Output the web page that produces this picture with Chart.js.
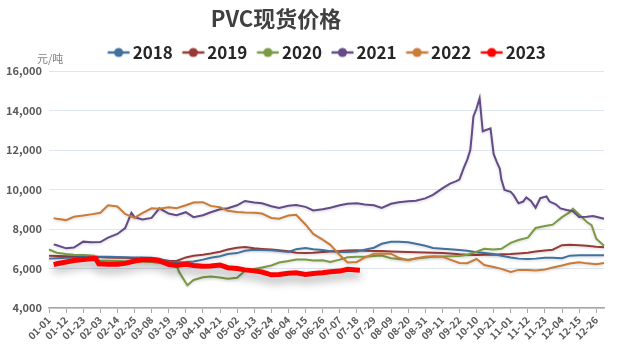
<!DOCTYPE html>
<html>
<head>
<meta charset="utf-8">
<script src="https://cdn.jsdelivr.net/npm/chart.js@4/dist/chart.umd.min.js"></script>
<style>
html,body{margin:0;padding:0;background:#ffffff;}
#wrap{width:617px;height:349px;position:relative;}
</style>
</head>
<body>
<div id="wrap"><canvas id="c" width="617" height="349"></canvas></div>
<script>
// ---------- text ----------
const chartTitle = 'PVC现货价格';
const unitLabel = '元/吨';
const seriesNames = ['2018', '2019', '2020', '2021', '2022', '2023'];

// ---------- category axis: calendar days (Oct 1-7 holiday absent) ----------
const monthLengths = [31, 28, 31, 30, 31, 30, 31, 31, 30, 31, 30, 31];
const holidayMonth = 10, holidayLastDay = 7;
const dayLabels = [];
for (let m = 1; m <= 12; m++) {
  for (let d = 1; d <= monthLengths[m - 1]; d++) {
    if (m === holidayMonth && d <= holidayLastDay) continue;
    dayLabels.push(String(m).padStart(2, '0') + '-' + String(d).padStart(2, '0'));
  }
}
const labelEvery = 11; // a tick label on every 11th category

const baseDays = ['01-01','01-06','01-12','01-17','01-23','01-28',
  '02-03','02-08','02-14','02-19','02-25',
  '03-02','03-08','03-13','03-19','03-24','03-30',
  '04-04','04-10','04-15','04-21','04-26',
  '05-02','05-07','05-13','05-18','05-24','05-29',
  '06-04','06-09','06-15','06-20','06-26',
  '07-01','07-07','07-12','07-18','07-23','07-29',
  '08-03','08-09','08-14','08-20','08-25','08-31',
  '09-05','09-11','09-16','09-22','09-27',
  '10-10','10-15','10-21','10-26',
  '11-01','11-06','11-12','11-17','11-23','11-28',
  '12-04','12-09','12-15','12-20','12-26','12-31'];

const price2018 = [6500,6520,6540,6560,6580,6590,
  6590,6590,6580,6570,6560,
  6560,6540,6500,6330,6320,6330,
  6360,6450,6540,6620,6730,
  6780,6900,6950,6940,6920,6880,
  6840,6980,7040,6980,6940,
  6880,6840,6840,6860,6950,7050,
  7250,7350,7360,7330,7250,7150,
  7040,7000,6970,6940,6900,
  6820,6780,6730,6650,
  6560,6500,6480,6500,6550,6540,
  6520,6650,6670,6670,6670,6670];

const price2019 = [6640,6630,6620,6610,6600,6590,
  6580,6560,6550,6540,6520,
  6510,6490,6460,6390,6380,6560,
  6650,6700,6760,6850,6960,
  7050,7090,7020,6990,6960,6920,
  6870,6800,6780,6800,6840,
  6860,6880,6910,6920,6900,6890,
  6880,6860,6850,6830,6820,6810,
  6800,6780,6760,6720,6700,
  6680,6690,6700,6720,
  6730,6760,6800,6860,6910,6950,
  7180,7200,7180,7150,7100,7080];

const days2020 = ['01-01','01-06','01-12','01-17','01-23','01-28','01-30',
  '02-01','02-03','02-08','02-14','02-19','02-25',
  '03-02','03-08','03-13','03-19','03-24','03-26','03-31',
  '04-04','04-10','04-15','04-21','04-26',
  '05-02','05-07','05-13','05-18','05-24','05-29',
  '06-04','06-09','06-15','06-20','06-26',
  '07-01','07-07','07-12','07-18','07-23','07-29',
  '08-03','08-09','08-14','08-20','08-25','08-31',
  '09-05','09-11','09-16','09-22','09-27',
  '10-10','10-15','10-21','10-26',
  '11-01','11-06','11-12','11-17','11-23','11-28',
  '12-04','12-09','12-11','12-15','12-20','12-23','12-26','12-31'];
const price2020 = [6960,6800,6740,6700,6680,6660,6650,
  6400,6390,6390,6380,6370,6360,
  6350,6330,6280,6220,6150,5780,5150,
  5420,5560,5590,5540,5480,
  5530,5880,5980,6050,6150,6300,
  6380,6460,6460,6400,6420,
  6330,6450,6570,6600,6600,6630,
  6660,6520,6480,6440,6500,6560,
  6600,6610,6620,6630,6700,
  6850,7000,6960,7000,
  7300,7440,7560,8050,8150,8220,
  8600,8850,9030,8740,8350,8200,7510,7150];

const days2021 = ['01-04','01-06','01-12','01-17','01-23','01-28',
  '02-03','02-08','02-14','02-19','02-23','02-25',
  '03-02','03-08','03-13','03-19','03-24','03-30',
  '04-04','04-10','04-15','04-21','04-26',
  '05-02','05-07','05-13','05-18','05-24','05-29',
  '06-04','06-09','06-15','06-20','06-26',
  '07-01','07-07','07-12','07-18','07-23','07-29',
  '08-03','08-09','08-14','08-20','08-25','08-31',
  '09-05','09-11','09-16','09-20','09-22','09-25','09-27','09-29','09-30',
  '10-08','10-10','10-12','10-14','10-19','10-21','10-23','10-25','10-26','10-28',
  '11-01','11-03','11-06','11-09','11-11','11-14','11-17','11-20','11-24','11-26','11-30',
  '12-03','12-07','12-11','12-15','12-20','12-24','12-31'];
const price2021 = [7220,7180,7020,7060,7360,7330,
  7340,7560,7750,8050,8820,8600,
  8480,8560,9050,8780,8700,8850,
  8600,8700,8850,9000,9050,
  9200,9420,9340,9300,9150,9070,
  9180,9220,9120,8940,9000,
  9080,9200,9280,9300,9240,9200,
  9070,9280,9350,9400,9430,9550,
  9730,10060,10300,10420,10500,11130,11500,12000,12800,
  13700,14100,14620,12950,13100,11800,11400,11050,10500,9980,
  9880,9700,9300,9390,9600,9420,9080,9560,9650,9390,9250,
  9040,8960,8900,8610,8620,8660,8520];

const days2022 = ['01-04'].concat(baseDays.slice(1));
const price2022 = [8550,8520,8450,8620,8680,8740,
  8820,9200,9140,8760,8560,
  8800,9050,9020,9100,9050,9200,
  9340,9360,9170,9100,8920,
  8860,8835,8820,8780,8560,8520,
  8680,8720,8230,7750,7460,
  7200,6680,6300,6330,6550,6750,
  6760,6750,6540,6420,6520,6600,
  6620,6600,6450,6280,6270,
  6480,6180,6080,5980,
  5820,5930,5920,5900,5950,6050,
  6150,6250,6320,6260,6220,6280];

const days2023 = ['01-04','01-06','01-12','01-17','01-23','01-28','01-31',
  '02-02','02-08','02-14','02-19','02-25',
  '03-02','03-08','03-13','03-19','03-24','03-30',
  '04-04','04-10','04-15','04-21','04-26',
  '05-02','05-07','05-13','05-18','05-24','05-29',
  '06-04','06-09','06-15','06-20','06-26',
  '07-01','07-07','07-12','07-20'];
const price2023 = [6200,6240,6330,6400,6450,6490,6510,
  6240,6210,6220,6260,6380,
  6440,6460,6400,6200,6150,6210,
  6150,6110,6130,6180,6040,
  6000,5930,5880,5820,5680,5700,
  5760,5780,5700,5750,5790,
  5840,5870,5960,5910];

// ---------- style ----------
const seriesColors = ['#41719f', '#983a37', '#7a9a44', '#624b86', '#c97b38', '#ff0000'];
const FONT = "'Noto Sans CJK SC','Noto Sans',sans-serif";

function points(days, prices) {
  return days.map((d, i) => ({ x: d, y: prices[i] }));
}

function legendMarker(color) {
  const c = document.createElement('canvas');
  c.width = 29; c.height = 12;
  const g = c.getContext('2d');
  g.strokeStyle = color; g.lineWidth = 2.5;
  g.beginPath(); g.moveTo(6.5, 6); g.lineTo(28.5, 6); g.stroke();
  g.fillStyle = color;
  g.beginPath(); g.arc(17.5, 6, 4.6, 0, Math.PI * 2); g.fill();
  return c;
}
const markers = seriesColors.map(legendMarker);

const seriesData = [
  points(baseDays, price2018),
  points(baseDays, price2019),
  points(days2020, price2020),
  points(days2021, price2021),
  points(days2022, price2022),
  points(days2023, price2023)
];
const drawOrder = [4, 5, 3, 2, 1, 0];

const datasets = seriesNames.map((name, i) => ({
  label: name,
  data: seriesData[i],
  borderColor: seriesColors[i],
  backgroundColor: seriesColors[i],
  borderWidth: i === 5 ? 5 : 2,
  pointRadius: 0,
  pointHoverRadius: 0,
  tension: 0,
  fill: false,
  order: drawOrder[i]
}));

const shadowPlugin = {
  id: 'lineShadow',
  beforeDatasetDraw(chart, args) {
    const ctx = chart.ctx;
    ctx.save();
    if (args.index === 5) {
      ctx.shadowColor = 'rgba(0,0,0,0.4)';
      ctx.shadowBlur = 10;
      ctx.shadowOffsetY = 5;
    } else {
      ctx.shadowColor = 'rgba(0,0,0,0.18)';
      ctx.shadowBlur = 3;
      ctx.shadowOffsetY = 1;
    }
  },
  afterDatasetDraw(chart) {
    chart.ctx.restore();
  }
};

const headerPlugin = {
  id: 'header',
  afterDraw(chart) {
    const ctx = chart.ctx;
    const area = chart.chartArea;
    ctx.save();
    ctx.fillStyle = '#404040';
    ctx.font = 'bold 22px ' + FONT;
    ctx.textAlign = 'center';
    ctx.textBaseline = 'middle';
    ctx.fillText(chartTitle, area.left + 227, 19);
    ctx.fillStyle = '#7f7f7f';
    ctx.font = '11px ' + FONT;
    ctx.textAlign = 'left';
    ctx.fillText(unitLabel, area.left - 12, 59);
    ctx.restore();
  }
};

new Chart(document.getElementById('c'), {
  type: 'line',
  data: { labels: dayLabels, datasets: datasets },
  plugins: [shadowPlugin, headerPlugin],
  options: {
    responsive: false,
    devicePixelRatio: 1,
    animation: false,
    spanGaps: true,
    layout: { padding: { top: 35, right: 13, left: 0, bottom: 0 } },
    plugins: {
      title: { display: false },
      tooltip: { enabled: false },
      legend: {
        display: true,
        position: 'top',
        fullSize: false,
        labels: {
          usePointStyle: true,
          pointStyleWidth: 17,
          padding: 9,
          color: '#262626',
          font: { family: FONT, size: 17, weight: 'bold' },
          sort: (a, b) => a.datasetIndex - b.datasetIndex,
          generateLabels(chart) {
            const items = Chart.defaults.plugins.legend.labels.generateLabels(chart);
            items.forEach(it => { it.pointStyle = markers[it.datasetIndex]; });
            return items;
          }
        }
      }
    },
    scales: {
      x: {
        type: 'category',
        offset: false,
        grid: {
          display: true,
          drawOnChartArea: false,
          drawTicks: true,
          tickLength: 5,
          color: c => (c.index % labelEvery === 0 ? '#a6a6a6' : 'rgba(0,0,0,0)'),
          tickColor: c => (c.index % labelEvery === 0 ? '#a6a6a6' : 'rgba(0,0,0,0)')
        },
        border: { display: true, color: '#a6a6a6', width: 1.5 },
        ticks: {
          autoSkip: false,
          maxRotation: 45,
          minRotation: 45,
          padding: 1,
          color: '#595959',
          font: { family: FONT, size: 10, weight: 'bold' },
          callback: (v, i) => (i % labelEvery === 0 ? dayLabels[i] : '')
        },
        afterFit: s => { s.height = 41; s.paddingLeft = 0; s.paddingRight = 0; }
      },
      y: {
        min: 4000,
        max: 16000,
        grid: { color: '#dfe6f0', lineWidth: 1, drawTicks: false },
        border: { display: false },
        ticks: {
          stepSize: 2000,
          padding: 7,
          color: '#595959',
          font: { family: FONT, size: 11, weight: 'bold' },
          callback: v => v.toLocaleString('en-US')
        },
        afterFit: s => { s.width = 49; s.paddingTop = 46; }
      }
    }
  }
});
</script>
</body>
</html>
